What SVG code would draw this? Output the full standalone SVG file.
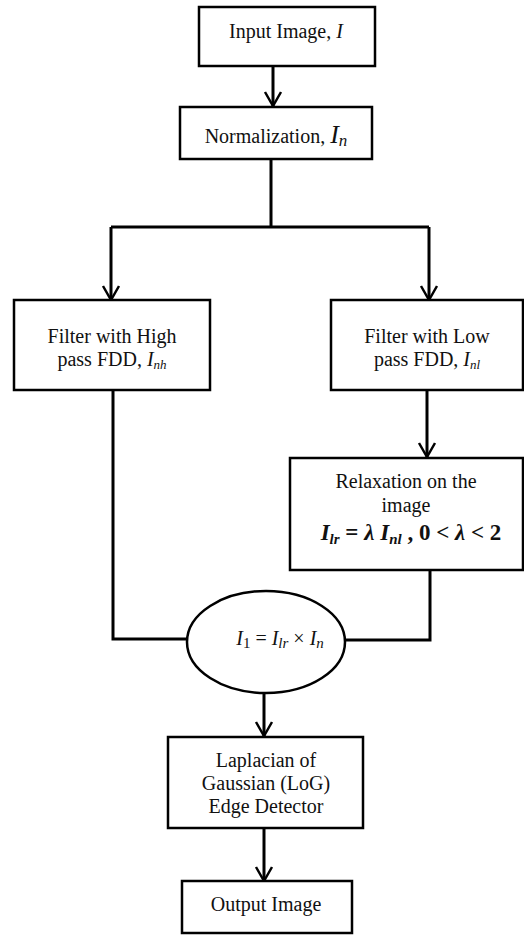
<svg xmlns="http://www.w3.org/2000/svg" width="524" height="936" viewBox="0 0 524 936">
<style>
.box{fill:#fff;stroke:#000;stroke-width:2.5}
text{font-family:'Liberation Serif','DejaVu Serif',serif}
.t{font-size:20px;fill:#111;text-anchor:middle}
.it{font-style:italic}
.ln{fill:none;stroke:#000;stroke-width:3}
.f{font-size:23px;font-weight:bold;fill:#111;text-anchor:middle}
</style>
<defs>
<marker id="ah" markerUnits="userSpaceOnUse" markerWidth="20" markerHeight="20" refX="16" refY="9" orient="auto" viewBox="0 0 20 18">
<path d="M2,1 L16,9 L2,17" fill="none" stroke="#000" stroke-width="2.5"/>
</marker>
</defs>
<g id="connectors">
<path class="ln" d="M273,66 V106" marker-end="url(#ah)"/>
<path class="ln" d="M271,159 V227 M111,227 H429"/>
<path class="ln" d="M111,227 V300" marker-end="url(#ah)"/>
<path class="ln" d="M429,227 V300" marker-end="url(#ah)"/>
<path class="ln" d="M427,390 V457" marker-end="url(#ah)"/>
<path class="ln" d="M113,390 V639 H187"/>
<path class="ln" d="M430,570 V640 H345"/>
<path class="ln" d="M264,693 V736" marker-end="url(#ah)"/>
<path class="ln" d="M264,828 V881" marker-end="url(#ah)"/>
</g>
<g id="input">
<rect class="box" x="199" y="7" width="176" height="59"/>
<text class="t" x="286" y="38" font-family="Liberation Serif, serif">Input Image, <tspan class="it">I</tspan></text>
</g>
<g id="normalization">
<rect class="box" x="180" y="107" width="192" height="52"/>
<text class="t" x="276" y="143" font-family="Liberation Serif, serif">Normalization, <tspan class="it" font-size="26">I</tspan><tspan class="it" font-size="17" dy="3">n</tspan></text>
</g>
<g id="highpass">
<rect class="box" x="14" y="300" width="196" height="90"/>
<text class="t" x="112" y="343" font-family="Liberation Serif, serif">Filter with High</text>
<text class="t" x="112" y="366" font-family="Liberation Serif, serif">pass FDD, <tspan class="it">I</tspan><tspan class="it" font-size="13" dy="3">nh</tspan></text>
</g>
<g id="lowpass">
<rect class="box" x="331" y="300" width="192" height="90"/>
<text class="t" x="427" y="343" font-family="Liberation Serif, serif">Filter with Low</text>
<text class="t" x="427" y="366" font-family="Liberation Serif, serif">pass FDD, <tspan class="it">I</tspan><tspan class="it" font-size="13" dy="3">nl</tspan></text>
</g>
<g id="relaxation">
<rect class="box" x="290" y="458" width="233" height="112"/>
<text class="t" x="406" y="488" font-family="Liberation Serif, serif">Relaxation on the</text>
<text class="t" x="406" y="512" font-family="Liberation Serif, serif">image</text>
<text class="f" x="411" y="540" font-family="Liberation Serif, serif"><tspan class="it">I</tspan><tspan class="it" font-size="15" dy="4">lr</tspan><tspan dy="-4"> = </tspan><tspan class="it">λ</tspan><tspan class="it"> I</tspan><tspan class="it" font-size="15" dy="4">nl</tspan><tspan dy="-4"> , 0 &lt; </tspan><tspan class="it">λ</tspan><tspan> &lt; 2</tspan></text>
</g>
<g id="product">
<ellipse cx="266" cy="642" rx="79" ry="51" fill="#fff" stroke="#000" stroke-width="2.5"/>
<text class="t" x="280" y="645" fill="#333" font-size="21" font-family="Liberation Serif, serif"><tspan class="it">I</tspan><tspan font-size="15" dy="3">1</tspan><tspan dy="-3"> = </tspan><tspan class="it">I</tspan><tspan class="it" font-size="15" dy="3">lr</tspan><tspan dy="-3"> × </tspan><tspan class="it">I</tspan><tspan class="it" font-size="15" dy="3">n</tspan></text>
</g>
<g id="log">
<rect class="box" x="168" y="737" width="195" height="91"/>
<text class="t" x="266" y="767" font-family="Liberation Serif, serif">Laplacian of</text>
<text class="t" x="266" y="790" font-family="Liberation Serif, serif">Gaussian (LoG)</text>
<text class="t" x="266" y="813" font-family="Liberation Serif, serif">Edge Detector</text>
</g>
<g id="output">
<rect class="box" x="182" y="881" width="170" height="52"/>
<text class="t" x="266" y="911" font-family="Liberation Serif, serif">Output Image</text>
</g>
</svg>
